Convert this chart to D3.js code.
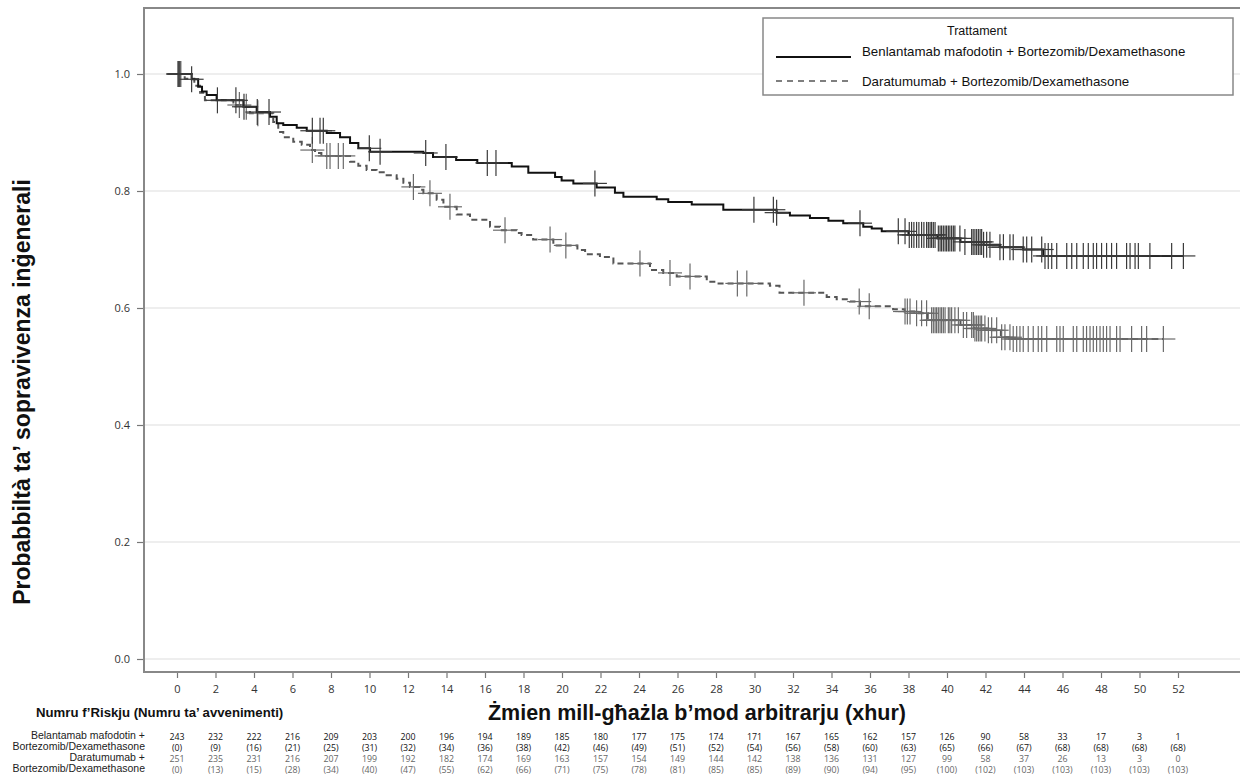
<!DOCTYPE html>
<html lang="mt">
<head>
    <meta charset="UTF-8">
    <title>Sopravivenza inġenerali</title>
    <script src="https://d3js.org/d3.v7.min.js"></script>
</head>
<style>
   body {
		margin: 0;
		padding: 0;
		background: #fff;
	}
   svg text {font-family: "Liberation Sans", Arial, sans-serif;}
   .num {font-family: "Open Sans", "Noto Sans", sans-serif;}
</style>
<body>
  <div id="chartholder"></div>

  <script>
    // weeks shown under the x axis and in the risk table
    const weeks = d3.range(0, 53, 2);

    // Kaplan-Meier steps [time (months), survival]
    const stepsBel = [[0,1.0],[0.76,0.991],[1.1,0.978],[1.3,0.970],[1.54,0.964],[2.06,0.955],[3.45,0.944],[4.14,0.935],
      [4.83,0.927],[5.18,0.916],[5.52,0.913],[6.22,0.908],[6.74,0.903],[7.78,0.899],[8.47,0.892],[8.99,0.882],[9.42,0.873],
      [10.03,0.867],[12.8,0.865],[13.3,0.858],[14.5,0.853],[15.6,0.848],[17.39,0.842],[18.25,0.831],[19.64,0.824],
      [19.98,0.818],[20.59,0.813],[21.8,0.806],[22.75,0.797],[23.19,0.790],[24.92,0.786],[25.52,0.781],[26.74,0.777],
      [28.38,0.768],[31.15,0.763],[31.84,0.758],[32.88,0.754],[33.84,0.749],[34.61,0.745],[35.65,0.739],[36.09,0.736],
      [36.61,0.731],[38.0,0.725],[39.5,0.719],[40.7,0.713],[41.9,0.708],[42.75,0.704],[43.96,0.700],[45.0,0.689]];

    const stepsDara = [[0,1.0],[0.4,0.992],[0.9,0.980],[1.2,0.968],[1.45,0.955],[2.93,0.947],[3.3,0.944],[3.79,0.933],
      [5.0,0.918],[5.26,0.901],[5.52,0.892],[6.04,0.884],[6.48,0.879],[6.91,0.870],[7.17,0.865],[7.5,0.860],[8.99,0.850],
      [9.42,0.843],[9.85,0.836],[10.37,0.832],[10.89,0.827],[11.41,0.821],[11.76,0.814],[12.1,0.807],[12.62,0.802],
      [12.8,0.796],[13.49,0.785],[13.84,0.773],[14.53,0.760],[15.22,0.751],[16.26,0.739],[16.78,0.733],[17.65,0.728],
      [17.9,0.725],[18.5,0.717],[19.55,0.707],[20.8,0.699],[21.2,0.692],[21.97,0.687],[22.67,0.676],[24.57,0.665],
      [25.26,0.660],[25.96,0.654],[27.52,0.645],[28.04,0.642],[30.8,0.638],[31.3,0.626],[33.75,0.619],[34.27,0.615],
      [34.96,0.611],[35.48,0.603],[37.2,0.598],[37.8,0.594],[38.3,0.591],[39.0,0.579],[40.7,0.571],[41.4,0.565],
      [42.1,0.562],[42.8,0.550],[43.4,0.547]];

    // censored times (months)
    const censBel = [0.05,0.1,0.15,0.76,2.1,3.06,3.48,4.17,4.78,7.03,7.43,7.6,9.99,10.55,12.92,13.97,16.12,16.57,
      21.71,29.97,30.98,31.15,35.48,37.47,37.82,38.04,38.16,38.28,38.42,38.54,38.68,38.8,38.94,39.03,39.12,39.2,39.29,
      39.38,39.55,39.64,39.72,39.81,39.9,39.98,40.07,40.15,40.24,40.33,40.41,40.67,40.93,41.28,41.36,41.45,41.54,41.63,
      41.72,41.8,41.9,42.06,42.23,42.75,42.93,43.27,43.44,43.96,44.14,44.4,44.92,45.09,45.26,45.44,45.7,46.22,46.48,
      46.74,47.08,47.34,47.6,47.77,48.03,48.29,48.55,48.81,49.33,49.51,49.77,49.94,50.54,51.67,52.28];

    const censDara = [0.1,0.2,3.24,3.6,4.2,7.03,7.78,7.95,8.38,8.64,12.28,13.14,14.18,17.04,19.38,20.2,24.05,25.61,
      26.65,29.11,29.6,32.57,35.44,35.96,37.82,37.94,38.08,38.42,38.68,38.94,39.2,39.29,39.38,39.46,39.55,39.64,39.72,
      39.81,39.9,40.07,40.15,40.24,40.41,40.59,40.85,41.02,41.28,41.37,41.45,41.54,41.63,41.72,41.8,41.97,42.15,42.32,
      42.58,42.84,43.01,43.27,43.44,43.62,43.79,43.96,44.22,44.48,44.74,44.92,45.18,45.7,45.87,46.04,46.56,46.74,
      47.08,47.25,47.43,47.6,47.77,47.95,48.12,48.29,48.47,48.81,48.99,49.59,50.11,50.37,51.24];

    // risk table
    const riskBel = [243,232,222,216,209,203,200,196,194,189,185,180,177,175,174,171,167,165,162,157,126,90,58,33,17,3,1];
    const eventsBel = [0,9,16,21,25,31,32,34,36,38,42,46,49,51,52,54,56,58,60,63,65,66,67,68,68,68,68];
    const riskDara = [251,235,231,216,207,199,192,182,174,169,163,157,154,149,144,142,138,136,131,127,99,58,37,26,13,3,0];
    const eventsDara = [0,13,15,28,34,40,47,55,62,66,71,75,78,81,85,85,89,90,94,95,100,102,103,103,103,103,103];

    const yTicks = [0, 0.2, 0.4, 0.6, 0.8, 1.0];

    const W = 1240, H = 780;
    const frame = {left: 144, top: 8, bottom: 672, right: 1240};

    const svg = d3.select("#chartholder")
      .append("svg")
        .attr("width", W)
        .attr("height", H);

    const x = d3.scaleLinear().domain([0, 52]).range([177, 1178]);
    const y = d3.scaleLinear().domain([0, 1]).range([659, 74]);

    // clip for the plot area
    svg.append("clipPath").attr("id", "plotclip")
      .append("rect")
        .attr("x", frame.left).attr("y", frame.top)
        .attr("width", frame.right - frame.left).attr("height", frame.bottom - frame.top);

    // grid lines
    svg.append("g").selectAll("line")
      .data(yTicks)
      .join("line")
        .attr("x1", frame.left).attr("x2", frame.right)
        .attr("y1", d => y(d)).attr("y2", d => y(d))
        .attr("stroke", "#dedede")
        .attr("stroke-width", 1.2);

    // y axis
    const yAxis = svg.append("g")
      .attr("transform", `translate(${frame.left},0)`)
      .call(d3.axisLeft(y).tickValues(yTicks).tickFormat(d3.format(".1f")).tickSize(7).tickPadding(7));
    yAxis.select(".domain").remove();
    yAxis.selectAll("line").attr("stroke", "#777").attr("stroke-width", 1.2);
    yAxis.selectAll("text").attr("class", "num").attr("font-size", 11).attr("fill", "#333");

    // x axis
    const xAxis = svg.append("g")
      .attr("transform", `translate(0,${frame.bottom})`)
      .call(d3.axisBottom(x).tickValues(weeks).tickSize(6).tickPadding(7));
    xAxis.select(".domain").remove();
    xAxis.selectAll("line").attr("stroke", "#777").attr("stroke-width", 1.2);
    xAxis.selectAll("text").attr("class", "num").attr("font-size", 11).attr("fill", "#333");

    // frame (left, top, bottom)
    svg.append("path")
      .attr("d", `M${frame.right},${frame.top}H${frame.left}V${frame.bottom}H${frame.right}`)
      .attr("fill", "none")
      .attr("stroke", "#888")
      .attr("stroke-width", 2);

    function survAt(steps, t) {
      let s = steps[0][1];
      for (const p of steps) { if (p[0] <= t) s = p[1]; }
      return s;
    }

    const line = d3.line()
      .x(d => x(d[0]))
      .y(d => y(d[1]))
      .curve(d3.curveStepAfter);

    const plot = svg.append("g").attr("clip-path", "url(#plotclip)");

    const arms = [
      {steps: stepsBel, cens: censBel, color: "#111", markColor: "#3a3a3a", dash: null},
      {steps: stepsDara, cens: censDara, color: "#555", markColor: "#6a6a6a", dash: "6,4"}
    ];

    // dashed arm first so the solid one stays on top
    arms.slice().reverse().forEach(arm => {
      const last = d3.max(arm.cens);
      const pts = arm.steps.concat([[last, arm.steps[arm.steps.length - 1][1]]]);

      plot.append("path")
        .datum(pts)
        .attr("d", line)
        .attr("fill", "none")
        .attr("stroke", arm.color)
        .attr("stroke-width", 2)
        .attr("stroke-dasharray", arm.dash);

      const marks = plot.append("g").selectAll("g")
        .data(arm.cens)
        .join("g")
          .attr("transform", d => `translate(${x(d)},${y(survAt(arm.steps, d))})`);
      marks.append("line")
        .attr("x1", 0).attr("x2", 0).attr("y1", -13).attr("y2", 13)
        .attr("stroke", arm.markColor).attr("stroke-width", 1.2);
      marks.append("line")
        .attr("x1", -12).attr("x2", 12).attr("y1", 0).attr("y2", 0)
        .attr("stroke", arm.markColor).attr("stroke-width", 1.2);
    });

    // legend
    const lg = svg.append("g");
    lg.append("rect")
      .attr("x", 763).attr("y", 18).attr("width", 470).attr("height", 77)
      .attr("fill", "#fff").attr("stroke", "#888").attr("stroke-width", 1.5);
    lg.append("text").attr("x", 977).attr("y", 35).attr("text-anchor", "middle")
      .attr("font-size", 12.5).attr("fill", "#111").text("Trattament");
    lg.append("line").attr("x1", 776).attr("x2", 851).attr("y1", 57).attr("y2", 57)
      .attr("stroke", "#111").attr("stroke-width", 2);
    lg.append("text").attr("x", 862).attr("y", 56).attr("font-size", 13.3).attr("fill", "#111")
      .text("Benlantamab mafodotin + Bortezomib/Dexamethasone");
    lg.append("line").attr("x1", 776).attr("x2", 851).attr("y1", 81).attr("y2", 81)
      .attr("stroke", "#555").attr("stroke-width", 1.5).attr("stroke-dasharray", "6,5");
    lg.append("text").attr("x", 862).attr("y", 86).attr("font-size", 13.3).attr("fill", "#111")
      .text("Daratumumab + Bortezomib/Dexamethasone");

    // axis titles
    svg.append("text")
      .attr("transform", "translate(30,392) rotate(-90)")
      .attr("text-anchor", "middle")
      .attr("font-size", 23).attr("font-weight", "bold").attr("fill", "#111")
      .text("Probabbiltà ta’ sopravivenza inġenerali");

    svg.append("text")
      .attr("x", 697).attr("y", 720)
      .attr("text-anchor", "middle")
      .attr("font-size", 21.5).attr("font-weight", "bold").attr("fill", "#111")
      .text("Żmien mill-għażla b’mod arbitrarju (xhur)");

    svg.append("text")
      .attr("x", 36).attr("y", 717)
      .attr("font-size", 13.2).attr("font-weight", "bold").attr("fill", "#111")
      .text("Numru f’Riskju (Numru ta’ avvenimenti)");

    // risk table
    const rows = [
      {label: "Belantamab mafodotin +", vals: riskBel, fmt: d => d, color: "#111"},
      {label: "Bortezomib/Dexamethasone", vals: eventsBel, fmt: d => `(${d})`, color: "#111"},
      {label: "Daratumumab +", vals: riskDara, fmt: d => d, color: "#666"},
      {label: "Bortezomib/Dexamethasone", vals: eventsDara, fmt: d => `(${d})`, color: "#666"}
    ];
    const rowY = [740, 751, 762, 773];

    rows.forEach((row, i) => {
      svg.append("text")
        .attr("x", 145).attr("y", rowY[i] - 1)
        .attr("text-anchor", "end")
        .attr("font-size", 10.5).attr("fill", "#222")
        .text(row.label);
      svg.append("g").selectAll("text")
        .data(row.vals)
        .join("text")
          .attr("class", "num")
          .attr("x", (d, j) => x(weeks[j]))
          .attr("y", rowY[i])
          .attr("text-anchor", "middle")
          .attr("font-size", 8.8)
          .attr("fill", row.color)
          .text(row.fmt);
    });
  </script>
</body>
</html>
